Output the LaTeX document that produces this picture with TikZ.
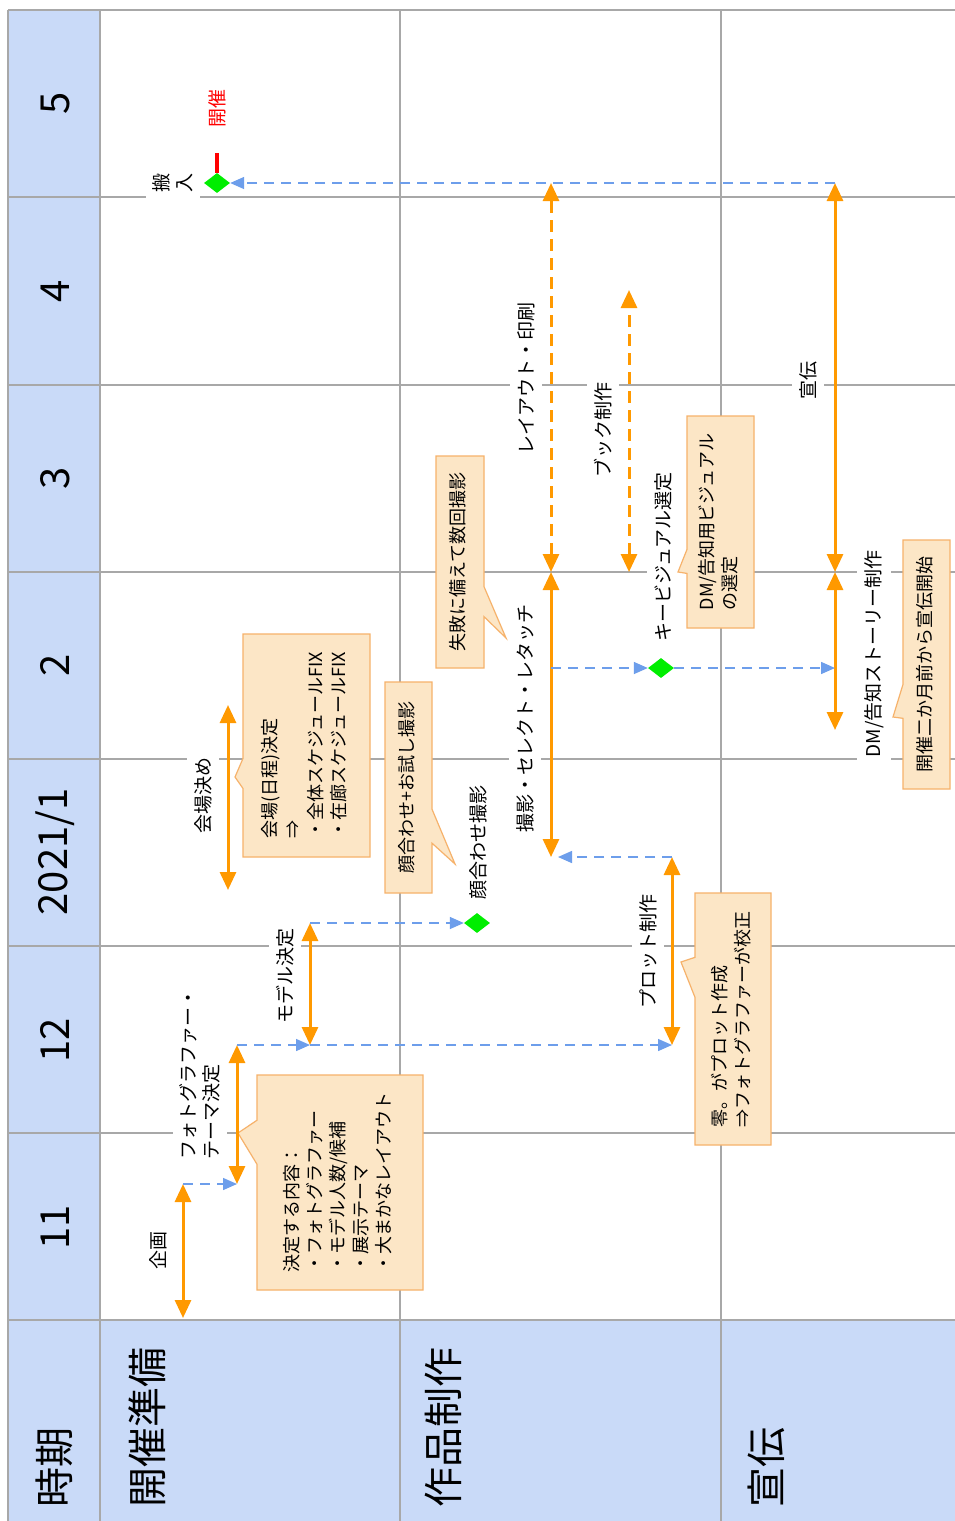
\documentclass[tikz,border=0pt]{standalone}
\usepackage{fontspec}
\setmainfont{Noto Sans CJK JP}
\usepackage{graphicx}
\usepackage{tikz}
\usetikzlibrary{arrows.meta, shapes.geometric, shapes.callouts}

\definecolor{headblue}{HTML}{C9DAF8}
\definecolor{gridgray}{HTML}{A8A8A8}
\definecolor{barorange}{HTML}{FF9900}
\definecolor{notefill}{HTML}{FCE6C6}
\definecolor{noteline}{HTML}{F6B26B}
\definecolor{linkblue}{HTML}{6D9EEB}
\definecolor{goalgreen}{HTML}{00EE00}

\newcommand{\vlines}[1]{\rotatebox{90}{\begin{tabular}{@{}l@{}}#1\end{tabular}}}

\begin{document}
\begin{tikzpicture}[
    x=1pt, y=-1pt,
    gridline/.style={gridgray, line width=1.4pt},
    head/.style={rotate=90, inner sep=0pt, font=\fontsize{40}{48}\selectfont},
    lbl/.style={rotate=90, fill=white, inner sep=7pt, align=left, font=\fontsize{19}{23}\selectfont},
    note/.style={rectangle callout, draw=noteline, fill=notefill, line width=1.2pt,
      inner sep=0pt, font=\fontsize{18}{23}\selectfont},
    milestone/.style={diamond, fill=goalgreen, minimum width=26pt, minimum height=20pt, inner sep=0pt},
    task/.style={barorange, line width=3pt, {Triangle[length=18pt,width=16pt]}-{Triangle[length=18pt,width=16pt]}},
    plan/.style={task, dash pattern=on 12pt off 7pt},
    link/.style={linkblue, line width=1.5pt, dash pattern=on 10pt off 7pt, -{Triangle[length=14pt,width=12pt]}},
  ]
    \useasboundingbox (0,0) rectangle (955,1521);
    \fill[white] (0,0) rectangle (955,1521);
    \fill[headblue] (8,10) rectangle (100,1521);
    \fill[headblue] (8,1320) rectangle (955,1521);
    \foreach \y in {10,197,385,572,759,946,1133,1320}
      \draw[gridline] (8,\y) -- (955,\y);
    \foreach \x in {8,100,400,721}
      \draw[gridline] (\x,10) -- (\x,1521);

    \node[head] (m5)  at (55,103)  {5};
    \node[head] (m4)  at (55,291)  {4};
    \node[head] (m3)  at (55,478)  {3};
    \node[head] (m2)  at (55,665)  {2};
    \node[head] (m1)  at (55,852)  {2021/1};
    \node[head] (m12) at (55,1040) {12};
    \node[head] (m11) at (55,1227) {11};
    \node[head, anchor=west] (jiki)    at (54,1508)  {時期};
    \node[head, anchor=west] (junbi)   at (147,1508) {開催準備};
    \node[head, anchor=west] (seisaku) at (443,1508) {作品制作};
    \node[head, anchor=west] (senden)  at (766,1508) {宣伝};

    \node[lbl] (kikakuL)  at (158,1250) {企画};
    \node[lbl] (photoL)   at (200,1074) {フォトグラファー・\\テーマ決定};
    \node[lbl] (modelL)   at (285,976)  {モデル決定};
    \node[lbl] (kaijoL)   at (203,795)  {会場決め};
    \node[lbl] (hannyuL)  at (173,183)  {搬\\入};
    \node[lbl, fill=none, text=red] (kaisaiL) at (217,108) {開催};
    \node[lbl] (layoutL)  at (526,378)  {レイアウト・印刷};
    \node[lbl] (bookL)    at (603,430)  {ブック制作};
    \node[lbl] (satsueiL) at (525,718)  {撮影・セレクト・レタッチ};
    \node[lbl] (kaoL)     at (478,842)  {顔合わせ撮影};
    \node[lbl] (plotL)    at (648,951)  {プロット制作};
    \node[lbl] (keyvisL)  at (663,557)  {キービジュアル選定};
    \node[lbl] (senL)     at (808,380)  {宣伝};
    \node[lbl] (dmL)      at (874,654)  {DM/告知ストーリー制作};

    \node[note, minimum width=127pt, minimum height=223pt, callout pointer width=30pt,
      callout absolute pointer={(235,777)}] (kaijoNote) at (306.5,745.5)
      {\vlines{会場(日程)決定\\⇒\\・全体スケジュールFIX\\・在廊スケジュールFIX}};
    \node[note, minimum width=47pt, minimum height=211pt, callout pointer width=34pt,
      callout absolute pointer={(455,864)}] (kaoNote) at (408.5,787.5)
      {\vlines{顔合わせ+お試し撮影}};
    \node[note, minimum width=166pt, minimum height=215pt, callout pointer width=44pt,
      callout absolute pointer={(238,1133)}] (ketteiNote) at (340,1182.5)
      {\vlines{決定する内容：\\・フォトグラファー\\・モデル人数/候補\\・展示テーマ\\・大まかなレイアウト}};
    \node[note, minimum width=48pt, minimum height=212pt, callout pointer width=30pt,
      callout absolute pointer={(506,638)}] (shippaiNote) at (460,562)
      {\vlines{失敗に備えて数回撮影}};
    \node[note, minimum width=67pt, minimum height=212pt, callout pointer width=24pt,
      callout absolute pointer={(678,572)}] (dmvisNote) at (720.5,522)
      {\vlines{DM/告知用ビジュアル\\の選定}};
    \node[note, minimum width=76pt, minimum height=252pt, callout pointer width=40pt,
      callout absolute pointer={(681,962)}] (plotNote) at (733,1019)
      {\vlines{零。がプロット作成\\⇒フォトグラファーが校正}};
    \node[note, minimum width=47pt, minimum height=249pt, callout pointer width=34pt,
      callout absolute pointer={(893,717)}] (senNote) at (926.5,664.5)
      {\vlines{開催二か月前から宣伝開始}};

    \node[milestone] (hannyu)   at (217,183) {};
    \node[milestone] (kaoawase) at (477,923) {};
    \node[milestone] (keyvis)   at (661,668) {};

    \coordinate (kikakuS)  at (183,1318);
    \coordinate (kikakuE)  at (183,1184);
    \coordinate (photoS)   at (237,1184);
    \coordinate (photoE)   at (237,1045);
    \coordinate (modelS)   at (310,1045);
    \coordinate (modelE)   at (310,923);
    \coordinate (kaijoS)   at (228,890);
    \coordinate (kaijoE)   at (228,705);
    \coordinate (kaisaiT)  at (217,153);
    \coordinate (layoutS)  at (551,572);
    \coordinate (layoutE)  at (551,183);
    \coordinate (bookS)    at (629,572);
    \coordinate (bookE)    at (629,290);
    \coordinate (satsueiS) at (551,857);
    \coordinate (satsueiE) at (551,572);
    \coordinate (satsueiM) at (551,668);
    \coordinate (plotS)    at (672,1045);
    \coordinate (plotE)    at (672,857);
    \coordinate (senS)     at (835,572);
    \coordinate (senE)     at (835,183);
    \coordinate (dmS)      at (835,730);
    \coordinate (dmE)      at (835,572);
    \coordinate (dmM)      at (835,668);

    \draw[task] (kikakuS) -- (kikakuE);
    \draw[task] (photoS) -- (photoE);
    \draw[task] (modelS) -- (modelE);
    \draw[task] (kaijoS) -- (kaijoE);
    \draw[plan] (layoutS) -- (layoutE);
    \draw[plan] (bookS) -- (bookE);
    \draw[task] (satsueiS) -- (satsueiE);
    \draw[task] (plotS) -- (plotE);
    \draw[task] (senS) -- (senE);
    \draw[task] (dmS) -- (dmE);
    \draw[red, line width=3.5pt] (hannyu.north) -- (kaisaiT);

    \draw[link] (kikakuE) -- (photoS);
    \draw[link] (photoE) -- (modelS);
    \draw[link] (modelS) -- (plotS);
    \draw[link] (modelE) -- (kaoawase);
    \draw[link, shorten >=7pt] (plotE) -- (satsueiS);
    \draw[link] (satsueiM) -- (keyvis);
    \draw[link] (keyvis) -- (dmM);
    \draw[link] (senE) -- (hannyu);
  \end{tikzpicture}
\end{document}
